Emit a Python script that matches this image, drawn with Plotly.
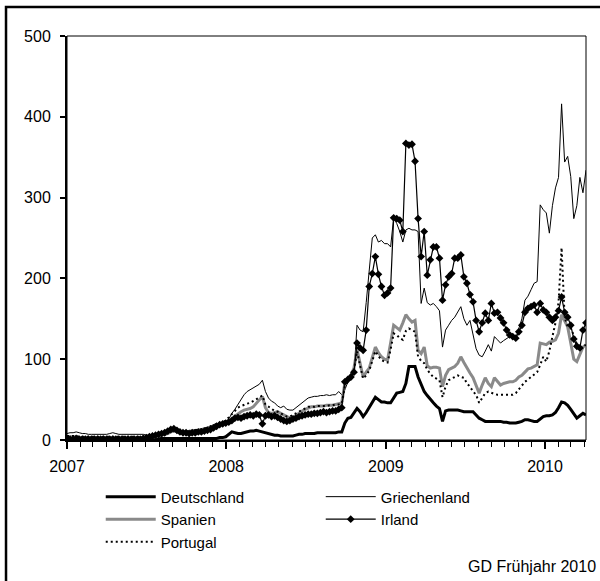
import pandas as pd
import plotly.graph_objects as go

# Weekly observations (Mondays), Jan 2007 - Apr 2010
dates = pd.date_range("2007-01-01", periods=171, freq="7D")

deutschland = (
    [1] * 30 + [2] * 20 + [3, 3]
    + [4, 7, 10, 9, 8, 8, 9, 10, 11, 11, 12, 11, 10, 9, 8, 7, 6, 6, 5, 5,
       5, 5, 5, 6, 7, 7, 8, 8, 8, 8, 9, 9, 9, 9, 9, 9, 9, 10, 10]
    + [21, 27, 28, 33, 39, 35, 29, 34, 40, 47,
       53, 50, 47, 47, 46, 46, 52, 58, 59, 60,
       70, 91, 91, 91, 78, 68, 60, 55, 50, 46,
       42, 39, 23, 36, 37, 37, 37, 37, 36, 35]
    + [35, 35, 35, 31, 27, 25, 23, 23, 23, 23,
       23, 23, 22, 22, 21, 21, 21, 22, 23, 25,
       25, 24, 23, 23, 26, 29, 30, 30, 31, 34,
       40, 47, 46, 43, 38, 32, 27, 30, 33, 31]
)

griechenland = [
    8, 9, 9, 10, 9, 8, 8, 7, 7, 7,
    7, 7, 7, 7, 8, 9, 8, 7, 7, 7,
    7, 7, 7, 7, 7, 7, 6, 6, 6, 6,
    7, 8, 9, 11, 13, 14, 12, 11, 11, 11,
    12, 12, 13, 13, 14, 15, 16, 17, 19, 20,
    21, 22, 23, 26, 33, 38, 44, 50, 56, 60,
    62, 64, 66, 69, 74, 60, 52, 48, 46, 42,
    40, 42, 38, 37, 37, 40, 43, 46, 50, 52,
    53, 54, 54, 55, 55, 56, 55, 56, 56, 60,
    56, 62, 72, 78, 82, 142, 136, 134, 170, 210,
    250, 254, 245, 247, 243, 243, 239, 275, 268, 258,
    245, 260, 262, 260, 260, 258, 169, 188, 170, 167,
    169, 165, 160, 115, 136, 142, 148, 152, 158, 165,
    150, 142, 148, 128, 113, 105, 103, 110, 118, 110,
    128, 124, 120, 123, 126, 128, 127, 126, 138, 150,
    173, 178, 186, 194, 196, 291, 285, 281, 256, 290,
    312, 325, 416, 344, 351, 326, 274, 290, 325, 306, 334,
]

spanien = [
    4, 4, 4, 4, 3, 3, 3, 3, 3, 3,
    3, 3, 3, 3, 3, 3, 3, 3, 3, 3,
    3, 3, 3, 3, 3, 3, 3, 4, 4, 4,
    5, 6, 7, 8, 10, 11, 10, 9, 9, 9,
    10, 10, 11, 12, 12, 13, 14, 16, 17, 18,
    20, 21, 22, 24, 27, 30, 33, 35, 37, 38,
    39, 41, 45, 50, 54, 40, 34, 33, 34, 35,
    33, 31, 28, 27, 28, 31, 33, 36, 38, 40,
    41, 41, 42, 42, 42, 43, 43, 43, 44, 45,
    46, 70, 74, 80, 89, 112, 95, 78, 84, 89,
    102, 115, 108, 103, 100, 99, 120, 142, 139, 136,
    145, 155, 150, 146, 148, 111, 107, 115, 92, 89,
    90, 90, 89, 66, 80, 87, 89, 91, 95, 103,
    96, 89, 83, 77, 68, 58, 68, 77, 70, 66,
    77, 72, 68, 70, 71, 72, 72, 74, 78, 80,
    84, 88, 89, 91, 93, 120, 119, 118, 121, 122,
    124, 132, 155, 148, 140, 120, 100, 97, 107, 115, 118,
]

irland = [
    1, 1, 1, 2, 1, 1, 1, 1, 1, 1,
    1, 1, 1, 1, 1, 1, 1, 1, 1, 1,
    1, 1, 1, 1, 1, 2, 3, 4, 5, 6,
    7, 8, 9, 11, 13, 14, 12, 10, 9, 9,
    8, 9, 9, 10, 10, 11, 12, 13, 15, 17,
    19, 20, 21, 22, 24, 27, 28, 27, 29, 30,
    31, 30, 32, 31, 20, 30, 31, 29, 30, 28,
    26, 24, 23, 24, 26, 27, 29, 30, 31, 32,
    32, 33, 33, 34, 35, 34, 35, 36, 36, 38,
    40, 72, 75, 78, 84, 120, 114, 111, 136, 190,
    206, 227, 205, 190, 179, 182, 188, 275, 274, 272,
    258, 367, 365, 366, 345, 274, 227, 258, 204, 223,
    239, 239, 225, 173, 192, 202, 206, 225, 225, 229,
    202, 194, 180, 171, 148, 134, 145, 157, 148, 169,
    157, 158, 151, 145, 136, 130, 128, 126, 134, 142,
    158, 163, 165, 167, 158, 169, 161, 158, 152, 148,
    152, 160, 177, 158, 152, 142, 125, 116, 114, 136, 145,
]

portugal = [
    5, 5, 5, 5, 4, 4, 4, 4, 4, 4,
    4, 4, 4, 4, 4, 4, 4, 4, 4, 4,
    4, 4, 4, 4, 4, 4, 4, 5, 5, 5,
    6, 7, 8, 9, 11, 12, 11, 10, 10, 10,
    11, 11, 12, 13, 13, 14, 15, 17, 18, 20,
    21, 22, 24, 28, 33, 37, 40, 42, 44, 45,
    46, 48, 50, 52, 55, 44, 41, 38, 36, 35,
    33, 31, 29, 29, 31, 33, 36, 38, 40, 41,
    41, 41, 42, 42, 42, 42, 43, 43, 44, 44,
    45, 66, 72, 78, 86, 110, 92, 76, 80, 86,
    98, 110, 104, 99, 97, 96, 112, 132, 130, 126,
    124, 135, 138, 136, 134, 103, 98, 95, 87, 82,
    78, 76, 74, 53, 66, 74, 76, 78, 80, 78,
    77, 70, 66, 60, 56, 46, 52, 58, 60, 58,
    57, 56, 56, 56, 56, 56, 56, 58, 63, 68,
    72, 75, 78, 80, 84, 93, 103, 97, 110, 128,
    145, 170, 238, 152, 140, 138, 130, 118, 112, 115, 118,
]

year_ticks = ["2007-01-01", "2008-01-01", "2009-01-01", "2010-01-01"]
year_labels = ["2007", "2008", "2009", "2010"]
y_ticks = [0, 100, 200, 300, 400, 500]

FONT = "Arial, Liberation Sans, sans-serif"
x_range = ["2007-01-01", "2010-04-05"]

fig = go.Figure()
fig.add_trace(go.Scatter(x=dates, y=deutschland, name="Deutschland", mode="lines",
                         line=dict(color="black", width=3)))
fig.add_trace(go.Scatter(x=dates, y=griechenland, name="Griechenland", mode="lines",
                         line=dict(color="black", width=1)))
fig.add_trace(go.Scatter(x=dates, y=spanien, name="Spanien", mode="lines",
                         line=dict(color="#8a8a8a", width=3)))
fig.add_trace(go.Scatter(x=dates, y=irland, name="Irland", mode="lines+markers",
                         line=dict(color="black", width=1.2),
                         marker=dict(symbol="diamond", size=6, color="black")))
fig.add_trace(go.Scatter(x=dates, y=portugal, name="Portugal", mode="lines",
                         line=dict(color="black", width=2, dash="2px,3px")))

fig.update_layout(
    width=600, height=581,
    margin=dict(l=67, r=14, t=36, b=141, autoexpand=False),
    paper_bgcolor="white", plot_bgcolor="white",
    font=dict(family=FONT, size=15, color="black"),
    showlegend=True,
    legend=dict(orientation="h", x=0.065, xanchor="left", y=-0.10, yanchor="top",
                entrywidth=155, entrywidthmode="pixels", itemwidth=50,
                traceorder="normal", font=dict(family=FONT, size=15, color="black"),
                bgcolor="rgba(0,0,0,0)"),
    xaxis=dict(type="date", range=x_range, tickvals=year_ticks, ticktext=year_labels,
               ticks="outside", ticklen=7, tickwidth=1.5, tickcolor="black",
               showline=True, linewidth=2, linecolor="black", showgrid=False, zeroline=False,
               tickfont=dict(size=16), ticklabelstandoff=4,
               minor=dict(dtick="M1", tick0="2007-01-01", ticks="outside", ticklen=5,
                          tickwidth=1, tickcolor="black", showgrid=False)),
    xaxis2=dict(type="date", range=x_range, overlaying="x", anchor="y", side="bottom",
                tickvals=year_ticks, ticks="inside", ticklen=7, tickwidth=1.5,
                tickcolor="black", showticklabels=False, showline=False,
                showgrid=False, zeroline=False),
    yaxis=dict(range=[0, 500], tickvals=y_ticks, ticks="outside", ticklen=5, tickwidth=1.5,
               tickcolor="black", showline=True, linewidth=2, linecolor="black",
               showgrid=False, zeroline=False, tickfont=dict(size=16), ticklabelstandoff=6),
    yaxis2=dict(range=[0, 500], overlaying="y", anchor="x", side="left", tickvals=y_ticks,
                ticks="inside", ticklen=5, tickwidth=1.5, tickcolor="black",
                showticklabels=False, showline=False, showgrid=False, zeroline=False),
    shapes=[
        dict(type="rect", xref="paper", yref="paper", x0=0, x1=1, y0=0, y1=1,
             line=dict(color="black", width=1), layer="below"),
        dict(type="rect", xref="paper", yref="paper", x0=-0.1175, x1=1.2, y0=-0.6, y1=1.0718,
             line=dict(color="black", width=2.5), layer="above"),
    ],
    annotations=[
        dict(text="GD Frühjahr 2010", xref="paper", yref="paper", x=1.023, y=-0.314,
             xanchor="right", yanchor="middle", showarrow=False,
             font=dict(family=FONT, size=16, color="black")),
    ],
)

fig.write_html("out.html", config={"displayModeBar": False},
               post_script="document.body.style.margin='0';")
